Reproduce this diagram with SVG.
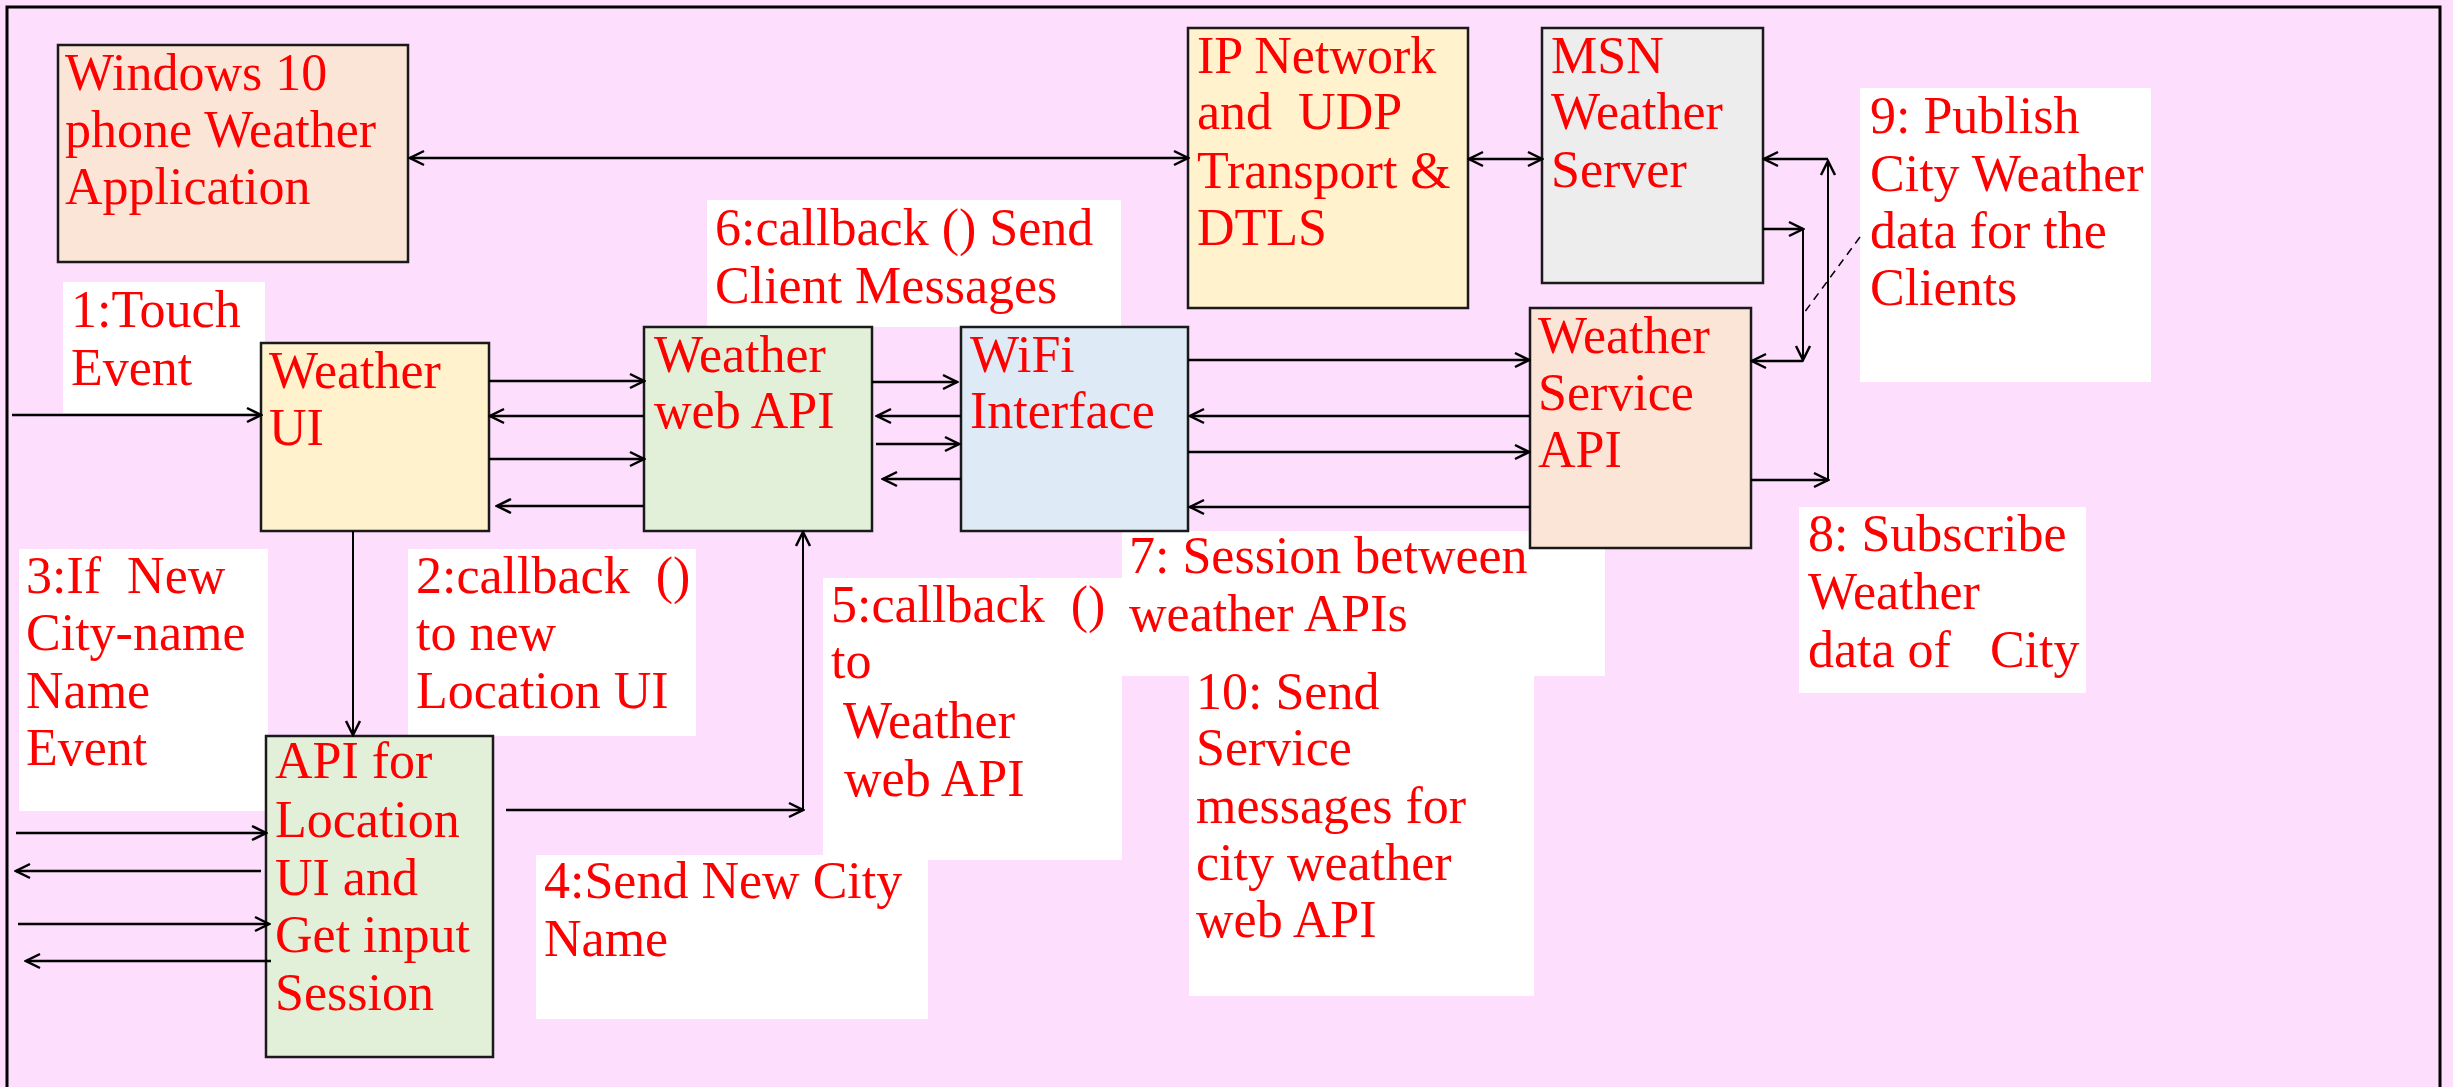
<svg xmlns="http://www.w3.org/2000/svg" width="2453" height="1087" viewBox="0 0 2453 1087">
<defs>
<style>
.bg{fill:#FDDEFD}
.frame{fill:none;stroke:#000;stroke-width:3}
.box{stroke:#1a1a1a;stroke-width:2.5}
.peach{fill:#FBE5D6}
.yellow{fill:#FFF2CC}
.gray{fill:#EDEDED}
.green{fill:#E2F0D9}
.blue{fill:#DEEBF7}
.lbl{fill:#FFFFFF}
text{font-family:"Liberation Serif","Times New Roman",serif;font-size:52px;fill:#FF0000;white-space:pre}
.c{fill:none;stroke:#000;stroke-width:2.5}
.ct{fill:none;stroke:#000;stroke-width:2}
.dash{fill:none;stroke:#000;stroke-width:1.5;stroke-dasharray:8 6}
</style>
<marker id="ah" viewBox="-16 -9 18 18" markerWidth="18" markerHeight="18" refX="0" refY="0" orient="auto-start-reverse" markerUnits="userSpaceOnUse">
<path d="M-14,-7 L0,0 L-14,7" fill="none" stroke="#000" stroke-width="2.5"/>
</marker>
</defs>
<rect class="bg" x="0" y="0" width="2453" height="1087"/>
<rect class="frame" x="7" y="7" width="2433" height="1100"/>

<g id="labels">
<g id="label-1">
<rect class="lbl" x="63" y="282" width="202" height="131"/>
<text x="71" y="327">1:Touch</text>
<text x="71" y="385">Event</text>
</g>
<g id="label-2">
<rect class="lbl" x="408" y="549" width="288" height="187"/>
<text x="416" y="593">2:callback  ()</text>
<text x="416" y="650">to new</text>
<text x="416" y="708">Location UI</text>
</g>
<g id="label-3">
<rect class="lbl" x="19" y="549" width="249" height="262"/>
<text x="26" y="593">3:If  New</text>
<text x="26" y="650">City-name</text>
<text x="26" y="708">Name</text>
<text x="26" y="765">Event</text>
</g>
<g id="label-4">
<rect class="lbl" x="536" y="855" width="392" height="164"/>
<text x="544" y="898">4:Send New City</text>
<text x="544" y="956">Name</text>
</g>
<g id="label-5">
<rect class="lbl" x="823" y="578" width="299" height="282"/>
<text x="831" y="622">5:callback  ()</text>
<text x="831" y="678">to</text>
<text x="831" y="738"> Weather</text>
<text x="844" y="796">web API</text>
</g>
<g id="label-6">
<rect class="lbl" x="707" y="200" width="414" height="127"/>
<text x="715" y="245">6:callback () Send</text>
<text x="715" y="303">Client Messages</text>
</g>
<g id="label-7">
<rect class="lbl" x="1122" y="531" width="483" height="145"/>
<text x="1129" y="573">7: Session between</text>
<text x="1129" y="631">weather APIs</text>
</g>
<g id="label-10">
<rect class="lbl" x="1189" y="676" width="345" height="320"/>
<text x="1196" y="709">10: Send</text>
<text x="1196" y="765">Service</text>
<text x="1196" y="823">messages for</text>
<text x="1196" y="880">city weather</text>
<text x="1196" y="937">web API</text>
</g>
<g id="label-8">
<rect class="lbl" x="1799" y="507" width="287" height="186"/>
<text x="1808" y="551">8: Subscribe</text>
<text x="1808" y="609">Weather</text>
<text x="1808" y="667">data of   City</text>
</g>
<g id="label-9">
<rect class="lbl" x="1860" y="88" width="291" height="294"/>
<text x="1870" y="133">9: Publish</text>
<text x="1870" y="191">City Weather</text>
<text x="1870" y="248">data for the</text>
<text x="1870" y="305">Clients</text>
</g>
</g>

<g id="node-windows">
<rect class="box peach" x="58" y="45" width="350" height="217"/>
<text x="65" y="90">Windows 10</text>
<text x="65" y="147">phone Weather</text>
<text x="65" y="204">Application</text>
</g>
<g id="node-ip">
<rect class="box yellow" x="1188" y="28" width="280" height="280"/>
<text x="1197" y="73">IP Network</text>
<text x="1197" y="129">and  UDP</text>
<text x="1197" y="188">Transport &amp;</text>
<text x="1197" y="245">DTLS</text>
</g>
<g id="node-msn">
<rect class="box gray" x="1542" y="28" width="221" height="255"/>
<text x="1551" y="73">MSN</text>
<text x="1551" y="129">Weather</text>
<text x="1551" y="187">Server</text>
</g>
<g id="node-weather-ui">
<rect class="box yellow" x="261" y="343" width="228" height="188"/>
<text x="269" y="388">Weather</text>
<text x="269" y="445">UI</text>
</g>
<g id="node-weather-web-api">
<rect class="box green" x="644" y="327" width="228" height="204"/>
<text x="654" y="372">Weather</text>
<text x="654" y="428">web API</text>
</g>
<g id="node-wifi">
<rect class="box blue" x="961" y="327" width="227" height="204"/>
<text x="970" y="372">WiFi</text>
<text x="970" y="428">Interface</text>
</g>
<g id="node-weather-service-api">
<rect class="box peach" x="1530" y="308" width="221" height="240"/>
<text x="1538" y="353">Weather</text>
<text x="1538" y="410">Service</text>
<text x="1538" y="467">API</text>
</g>
<g id="node-location-api">
<rect class="box green" x="266" y="736" width="227" height="321"/>
<text x="275" y="778">API for</text>
<text x="275" y="837">Location</text>
<text x="275" y="895">UI and</text>
<text x="275" y="952">Get input</text>
<text x="275" y="1010">Session</text>
</g>

<g id="connectors">
<line class="c" x1="410" y1="158" x2="1188" y2="158" marker-start="url(#ah)" marker-end="url(#ah)"/>
<line class="c" x1="1469" y1="159" x2="1542" y2="159" marker-start="url(#ah)" marker-end="url(#ah)"/>
<line class="c" x1="12" y1="415" x2="261" y2="415" marker-end="url(#ah)"/>
<line class="c" x1="489" y1="381" x2="644" y2="381" marker-end="url(#ah)"/>
<line class="c" x1="644" y1="416" x2="490" y2="416" marker-end="url(#ah)"/>
<line class="c" x1="489" y1="459" x2="644" y2="459" marker-end="url(#ah)"/>
<line class="c" x1="644" y1="506" x2="497" y2="506" marker-end="url(#ah)"/>
<line class="ct" x1="353" y1="531" x2="353" y2="735" marker-end="url(#ah)"/>
<line class="c" x1="872" y1="382" x2="957" y2="382" marker-end="url(#ah)"/>
<line class="c" x1="961" y1="416" x2="877" y2="416" marker-end="url(#ah)"/>
<line class="c" x1="876" y1="444" x2="959" y2="444" marker-end="url(#ah)"/>
<line class="c" x1="961" y1="479" x2="883" y2="479" marker-end="url(#ah)"/>
<line class="c" x1="1188" y1="360" x2="1529" y2="360" marker-end="url(#ah)"/>
<line class="c" x1="1530" y1="416" x2="1190" y2="416" marker-end="url(#ah)"/>
<line class="c" x1="1188" y1="452" x2="1529" y2="452" marker-end="url(#ah)"/>
<line class="c" x1="1530" y1="507" x2="1190" y2="507" marker-end="url(#ah)"/>
<line class="c" x1="1751" y1="480" x2="1828" y2="480" marker-end="url(#ah)"/>
<line class="ct" x1="1828" y1="480" x2="1828" y2="161" marker-end="url(#ah)"/>
<line class="c" x1="1828" y1="159" x2="1764" y2="159" marker-end="url(#ah)"/>
<line class="c" x1="1763" y1="229" x2="1803" y2="229" marker-end="url(#ah)"/>
<line class="ct" x1="1803" y1="229" x2="1803" y2="360" marker-end="url(#ah)"/>
<line class="c" x1="1803" y1="361" x2="1752" y2="361" marker-end="url(#ah)"/>
<line class="c" x1="506" y1="810" x2="803" y2="810" marker-end="url(#ah)"/>
<line class="ct" x1="803" y1="810" x2="803" y2="532" marker-end="url(#ah)"/>
<line class="c" x1="16" y1="833" x2="266" y2="833" marker-end="url(#ah)"/>
<line class="c" x1="261" y1="871" x2="16" y2="871" marker-end="url(#ah)"/>
<line class="c" x1="18" y1="924" x2="269" y2="924" marker-end="url(#ah)"/>
<line class="c" x1="271" y1="961" x2="26" y2="961" marker-end="url(#ah)"/>
<line class="dash" x1="1860" y1="237" x2="1804" y2="313"/>
</g>
</svg>
